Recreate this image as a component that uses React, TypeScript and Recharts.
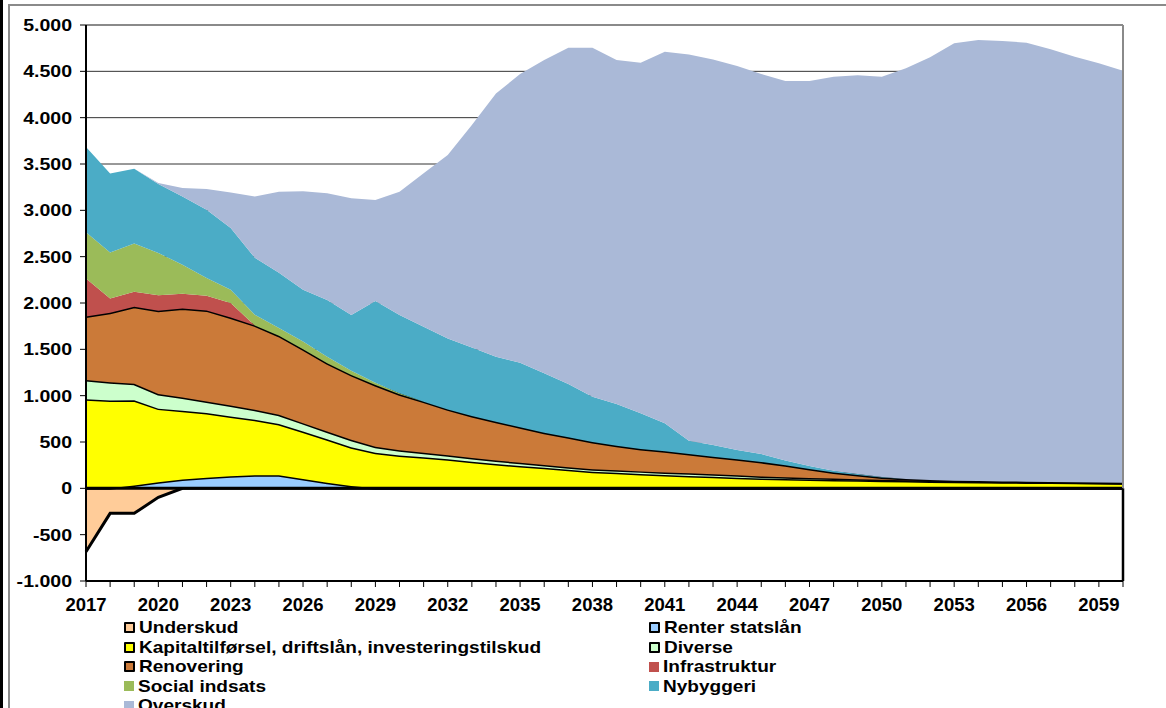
import { AreaChart, Area, XAxis, YAxis, CartesianGrid, ReferenceLine } from "recharts";

const years = [
  2017, 2018, 2019, 2020, 2021, 2022, 2023, 2024, 2025, 2026, 2027, 2028, 2029,
  2030, 2031, 2032, 2033, 2034, 2035, 2036, 2037, 2038, 2039, 2040,
  2041, 2042, 2043, 2044, 2045, 2046, 2047, 2048, 2049, 2050,
  2051, 2052, 2053, 2054, 2055, 2056, 2057, 2058, 2059, 2060,
];

// values in mio. kr. (stacked)
const underskud = [
  -684, -270, -270, -97, 0, 0, 0, 0, 0, 0, 0, 0, 0,
  0, 0, 0, 0, 0, 0, 0, 0, 0, 0, 0,
  0, 0, 0, 0, 0, 0, 0, 0, 0, 0,
  0, 0, 0, 0, 0, 0, 0, 0, 0, 0,
];
const renter = [
  0, 0, 30, 65, 95, 115, 130, 140, 140, 100, 60, 25, 0,
  0, 0, 0, 0, 0, 0, 0, 0, 0, 0, 0,
  0, 0, 0, 0, 0, 0, 0, 0, 0, 0,
  0, 0, 0, 0, 0, 0, 0, 0, 0, 0,
];
const kapital = [
  960, 948, 920, 795, 742, 697, 646, 600, 553, 513, 470, 418, 384,
  355, 335, 313, 287, 262, 241, 222, 200, 180, 167, 155,
  143, 133, 124, 115, 106, 100, 95, 90, 86, 82,
  78, 75, 72, 69, 66, 64, 62, 60, 58, 55,
];
const diverse = [
  210, 198, 178, 158, 144, 126, 119, 108, 101, 90, 82, 80, 65,
  55, 49, 44, 41, 38, 35, 31, 28, 27, 27, 28,
  29, 29, 27, 25, 23, 20, 17, 15, 13, 11,
  10, 9, 8, 7, 6, 5, 4, 3, 2, 2,
];
const renovering = [
  684, 748, 831, 899, 960, 982, 949, 910, 852, 799, 738, 701, 666,
  605, 551, 495, 452, 419, 382, 347, 322, 293, 266, 241,
  227, 208, 190, 173, 155, 130, 96, 67, 44, 25,
  12, 6, 2, 2, 3, 3, 3, 3, 3, 3,
];
const infrastruktur = [
  410, 155, 162, 166, 159, 158, 155, 0, 0, 0, 0, 0, 0,
  0, 0, 0, 0, 0, 0, 0, 0, 0, 0, 0,
  0, 0, 0, 0, 0, 0, 0, 0, 0, 0,
  0, 0, 0, 0, 0, 0, 0, 0, 0, 0,
];
const social = [
  500, 496, 521, 457, 313, 191, 144, 115, 83, 82, 71, 46, 25,
  12, 0, 0, 0, 0, 0, 0, 0, 0, 0, 0,
  0, 0, 0, 0, 0, 0, 0, 0, 0, 0,
  0, 0, 0, 0, 0, 0, 0, 0, 0, 0,
];
const nybyggeri = [
  920, 853, 806, 744, 737, 737, 666, 615, 597, 558, 612, 601, 881,
  843, 809, 766, 741, 701, 697, 641, 575, 489, 450, 385,
  302, 144, 126, 100, 86, 50, 32, 18, 12, 5,
  0, 0, 0, 0, 0, 0, 0, 0, 0, 0,
];
const overskud = [
  0, 0, 0, 10, 90, 224, 384, 662, 874, 1065, 1151, 1259, 1090,
  1330, 1655, 1979, 2400, 2842, 3116, 3381, 3630, 3766, 3712, 3784,
  4010, 4169, 4162, 4144, 4101, 4095, 4155, 4252, 4302, 4319,
  4432, 4561, 4720, 4760, 4752, 4737, 4668, 4591, 4523, 4447,
];

const yTicks = [-1000, -500, 0, 500, 1000, 1500, 2000, 2500, 3000, 3500, 4000, 4500, 5000];
const gridValues = [500, 1000, 1500, 2000, 2500, 3000, 3500, 4000, 4500];

const data = years.map((year, i) => ({
  year,
  underskud: underskud[i],
  renter: renter[i],
  kapital: kapital[i],
  diverse: diverse[i],
  renovering: renovering[i],
  infrastruktur: infrastruktur[i],
  social: social[i],
  nybyggeri: nybyggeri[i],
  overskud: overskud[i],
}));

const series = [
  { key: "underskud", name: "Underskud", color: "#FFCC99", outline: true },
  { key: "renter", name: "Renter statslån", color: "#99CCFF", outline: true },
  { key: "kapital", name: "Kapitaltilførsel, driftslån, investeringstilskud", color: "#FFFF00", outline: true },
  { key: "diverse", name: "Diverse", color: "#CCFFCC", outline: true },
  { key: "renovering", name: "Renovering", color: "#CB7A39", outline: true },
  { key: "infrastruktur", name: "Infrastruktur", color: "#C0504D", outline: false },
  { key: "social", name: "Social indsats", color: "#9BBB59", outline: false },
  { key: "nybyggeri", name: "Nybyggeri", color: "#4BACC6", outline: false },
  { key: "overskud", name: "Overskud", color: "#AAB9D7", outline: false },
];

const FONT = "'Liberation Sans', Arial, sans-serif";

const fmt = (v: number) => {
  const s = Math.abs(v).toString().replace(/\B(?=(\d{3})+(?!\d))/g, ".");
  return v < 0 ? "-" + s : s;
};

const XTick = (props: any) => {
  const { x, y, payload } = props;
  const year = payload.value as number;
  return (
    <g>
      <line x1={x} x2={x} y1={y - 8} y2={y - 2} stroke="#000" strokeWidth={1} />
      {(year - 2017) % 3 === 0 && (
        <text x={x} y={y} dy={22} textAnchor="middle" fontFamily={FONT} fontWeight="bold" fontSize={18.5} fill="#000">
          {year}
        </text>
      )}
    </g>
  );
};

const YTick = (props: any) => {
  const { x, y, payload } = props;
  return (
    <text
      transform={`translate(${x} ${y}) scale(1.15 1)`}
      x={0}
      y={0}
      dy={6}
      textAnchor="end"
      fontFamily={FONT}
      fontWeight="bold"
      fontSize={17}
      fill="#000"
    >
      {fmt(payload.value)}
    </text>
  );
};

const legendRows = [
  ["underskud", "renter"],
  ["kapital", "diverse"],
  ["renovering", "infrastruktur"],
  ["social", "nybyggeri"],
  ["overskud", null],
];

const LegendItem = ({ k, left, top }: { k: string; left: number; top: number }) => {
  const s = series.find((d) => d.key === k)!;
  return (
    <div style={{ position: "absolute", left, top, height: 19, display: "flex", alignItems: "center" }}>
      <div
        style={{
          width: s.outline ? 7 : 10,
          height: s.outline ? 7 : 10,
          background: s.color,
          border: s.outline ? "2px solid #000" : "none",
          borderRadius: s.outline ? 1 : 0,
        }}
      />
      <div
        style={{
          marginLeft: 4,
          fontFamily: FONT,
          fontWeight: "bold",
          fontSize: 17,
          color: "#000",
          whiteSpace: "nowrap",
          transform: "scaleX(1.12)",
          transformOrigin: "left center",
          lineHeight: "19px",
        }}
      >
        {s.name}
      </div>
    </div>
  );
};

export default function App() {
  return (
    <div style={{ position: "absolute", left: 0, top: 0, width: 1166, height: 708, background: "#fff", overflow: "hidden" }}>
      <div style={{ position: "absolute", left: 0, top: 0, width: 3, height: 708, background: "#000" }} />
      <div
        style={{
          position: "absolute",
          left: 8,
          top: 4,
          width: 1170,
          height: 720,
          borderLeft: "2px solid #8a8a8a",
          borderTop: "2px solid #8a8a8a",
        }}
      />
      <div style={{ position: "absolute", left: 0, top: 0 }}>
        <AreaChart
          width={1166}
          height={625}
          data={data}
          stackOffset="sign"
          margin={{ top: 25, right: 43, left: 0, bottom: 0 }}
        >
          <CartesianGrid horizontal vertical={false} horizontalValues={gridValues} stroke="#333" strokeWidth={1} />
          <XAxis
            dataKey="year"
            type="category"
            interval={0}
            height={44}
            tickSize={6}
            tickMargin={2}
            tickLine={false}
            axisLine={{ stroke: "#000", strokeWidth: 2 }}
            tick={<XTick />}
          />
          <YAxis
            type="number"
            domain={[-1000, 5000]}
            ticks={yTicks}
            interval={0}
            width={86}
            tickSize={6}
            tickMargin={8}
            tickLine={{ stroke: "#000" }}
            axisLine={{ stroke: "#000", strokeWidth: 2 }}
            tick={<YTick />}
          />
          {series.map((s) => (
            <Area
              key={s.key}
              type="linear"
              dataKey={s.key}
              name={s.name}
              stackId="a"
              fill={s.color}
              fillOpacity={1}
              stroke={s.outline ? "#000" : "none"}
              strokeWidth={s.outline ? 3 : 0}
              dot={false}
              activeDot={false}
              isAnimationActive={false}
            />
          ))}
          <ReferenceLine y={0} stroke="#000" strokeWidth={3} />
          <ReferenceLine y={5000} stroke="#8a8a8a" strokeWidth={2} />
          <ReferenceLine segment={[{ x: 2060, y: 0 }, { x: 2060, y: 5000 }]} stroke="#8a8a8a" strokeWidth={2} />
          <ReferenceLine segment={[{ x: 2060, y: -1000 }, { x: 2060, y: 0 }]} stroke="#000" strokeWidth={2.5} />
        </AreaChart>
      </div>
      {legendRows.map((row, r) => (
        <div key={r}>
          <LegendItem k={row[0] as string} left={124} top={618 + r * 19.5} />
          {row[1] && <LegendItem k={row[1]} left={649} top={618 + r * 19.5} />}
        </div>
      ))}
    </div>
  );
}
